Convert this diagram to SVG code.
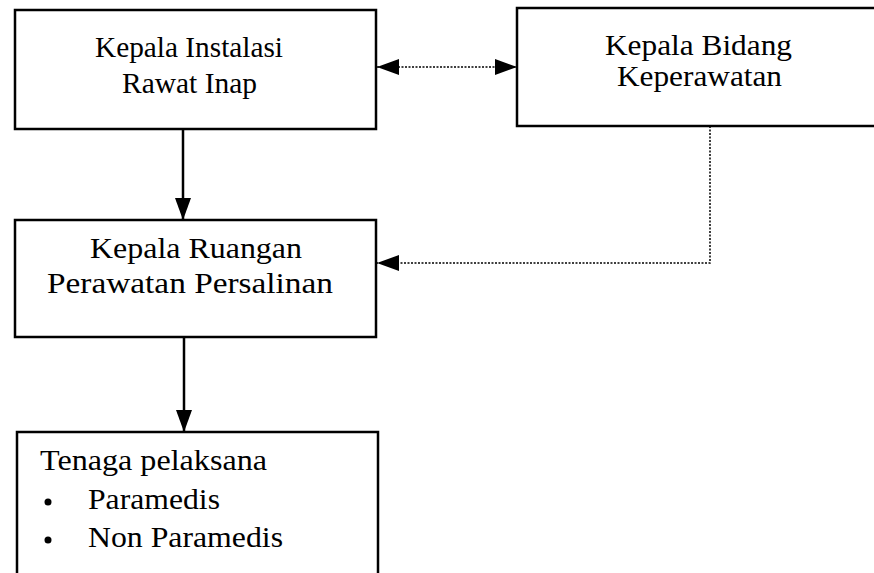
<svg xmlns="http://www.w3.org/2000/svg" width="874" height="573" viewBox="0 0 874 573">
<defs>
<style>
.box{fill:#fff;stroke:#000;stroke-width:2.5}
.t{font-family:"Liberation Serif","Times New Roman",serif;font-size:29px;fill:#000}
.solid{stroke:#000;stroke-width:2.5;fill:none}
.dot{stroke:#000;stroke-width:1.5;stroke-dasharray:2 1.5;fill:none}
</style>
<marker id="ah" viewBox="0 0 22 16" refX="22" refY="8" markerWidth="22" markerHeight="16" markerUnits="userSpaceOnUse" orient="auto-start-reverse">
<path d="M0,0 L22,8 L0,16 Z" fill="#000"/>
</marker>
</defs>
<rect width="874" height="573" fill="#fff"/>
<g id="node-instalasi">
<rect class="box" x="15" y="10" width="361" height="119"/>
<text class="t" x="95" y="57" textLength="188" lengthAdjust="spacingAndGlyphs">Kepala Instalasi</text>
<text class="t" x="122" y="93" textLength="135" lengthAdjust="spacingAndGlyphs">Rawat Inap</text>
</g>
<g id="node-bidang">
<rect class="box" x="517" y="8" width="380" height="118"/>
<text class="t" x="605" y="55" textLength="187" lengthAdjust="spacingAndGlyphs">Kepala Bidang</text>
<text class="t" x="617" y="86" textLength="165" lengthAdjust="spacingAndGlyphs">Keperawatan</text>
</g>
<g id="node-ruangan">
<rect class="box" x="15" y="220" width="361" height="117"/>
<text class="t" x="90" y="258" textLength="212" lengthAdjust="spacingAndGlyphs">Kepala Ruangan</text>
<text class="t" x="47" y="293" textLength="286" lengthAdjust="spacingAndGlyphs">Perawatan Persalinan</text>
</g>
<g id="node-tenaga">
<rect class="box" x="17" y="432" width="361" height="160"/>
<text class="t" x="40" y="470" textLength="227" lengthAdjust="spacingAndGlyphs">Tenaga pelaksana</text>
<circle cx="48" cy="502" r="3.5" fill="#000"/>
<text class="t" x="88" y="509" textLength="132" lengthAdjust="spacingAndGlyphs">Paramedis</text>
<circle cx="48" cy="540" r="3.5" fill="#000"/>
<text class="t" x="88" y="547" textLength="195" lengthAdjust="spacingAndGlyphs">Non Paramedis</text>
</g>
<g id="connectors">
<line class="dot" x1="377" y1="67" x2="517" y2="67" marker-start="url(#ah)" marker-end="url(#ah)"/>
<line class="solid" x1="183" y1="129" x2="183" y2="220" marker-end="url(#ah)"/>
<polyline class="dot" points="710,126 710,263 377,263" marker-end="url(#ah)"/>
<line class="solid" x1="184" y1="337" x2="184" y2="432" marker-end="url(#ah)"/>
</g>
</svg>
